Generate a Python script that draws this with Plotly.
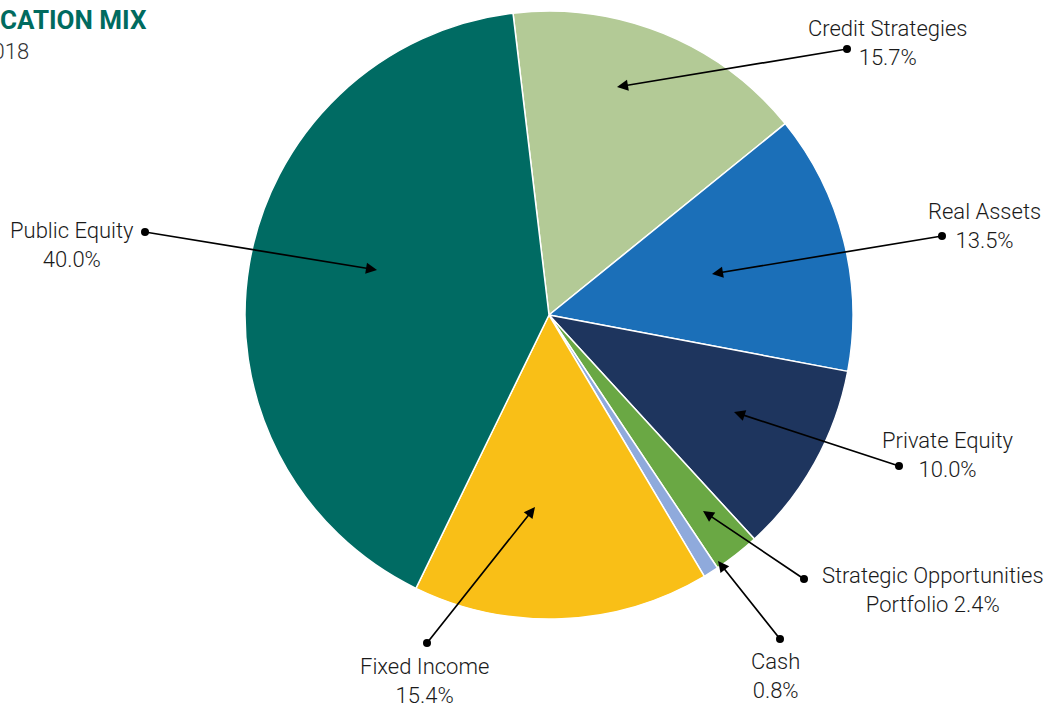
import plotly.graph_objects as go

W, H = 1049, 706

categories = ["Credit Strategies", "Real Assets", "Private Equity",
              "Strategic Opportunities Portfolio", "Cash", "Fixed Income", "Public Equity"]
values = [15.7, 13.5, 10.0, 2.4, 0.8, 15.4, 40.0]
label_texts = ["Credit Strategies<br>15.7%", "Real Assets<br>13.5%", "Private Equity<br>10.0%",
               "Strategic Opportunities<br>Portfolio 2.4%", "Cash<br>0.8%",
               "Fixed Income<br>15.4%", "Public Equity<br>40.0%"]
colors = ["#B3CA96", "#1B6FB8", "#1E355E", "#6AA844", "#8FAADC", "#F9BF17", "#006B63"]

# label layout (pixel positions on the page)
label_pos = [(888, 43), (984, 226), (948, 455), (933, 590), (775, 676), (424, 681), (72, 245)]
dot_pos = [(847, 49), (942, 236), (899, 466), (804, 579), (780, 639), (427, 643), (145, 232)]
tip_pos = [(617, 87), (712, 274), (734, 412), (703, 511), (718, 561), (535, 507), (377, 270)]

cx, cy, R = 549, 315, 304

FONT = "Roboto, DejaVu Sans Condensed, sans-serif"

fig = go.Figure()
fig.add_trace(go.Pie(
    labels=categories, values=values, sort=False, direction="clockwise",
    rotation=-6.8, marker=dict(colors=colors, line=dict(color="white", width=1.5)),
    textinfo="none", hoverinfo="label+percent", showlegend=False,
    domain=dict(x=[(cx - R) / W, (cx + R) / W], y=[1 - (cy + R) / H, 1 - (cy - R) / H]),
))
fig.add_trace(go.Scatter(
    x=[p[0] for p in dot_pos], y=[p[1] for p in dot_pos], mode="markers",
    marker=dict(color="black", size=8), hoverinfo="skip", showlegend=False,
))

annotations = []
for txt, (lx, ly) in zip(label_texts, label_pos):
    annotations.append(dict(x=lx, y=ly, xref="x", yref="y", text=txt, showarrow=False,
                            xanchor="center", yanchor="middle", align="center",
                            font=dict(family=FONT, size=22, color="#1a1a1a", weight=300)))
for (dx, dy), (tx, ty) in zip(dot_pos, tip_pos):
    annotations.append(dict(x=tx, y=ty, xref="x", yref="y", ax=dx, ay=dy, axref="x", ayref="y",
                            text="", showarrow=True, arrowhead=2, arrowsize=1.3,
                            arrowwidth=1.7, arrowcolor="black", standoff=0))
annotations.append(dict(x=149, y=20, xref="x", yref="y", text="<b>ASSET ALLOCATION MIX</b>",
                        showarrow=False, xanchor="right", yanchor="middle",
                        font=dict(family="Roboto, sans-serif", size=26, color="#006B5F")))
annotations.append(dict(x=31, y=51, xref="x", yref="y", text="As of June 30, 2018",
                        showarrow=False, xanchor="right", yanchor="middle",
                        font=dict(family=FONT, size=22, color="#333333", weight=300)))

fig.update_layout(
    width=W, height=H, margin=dict(l=0, r=0, t=0, b=0),
    paper_bgcolor="white", plot_bgcolor="rgba(0,0,0,0)",
    xaxis=dict(range=[0, W], visible=False, fixedrange=True, domain=[0, 1]),
    yaxis=dict(range=[H, 0], visible=False, fixedrange=True, domain=[0, 1]),
    annotations=annotations,
)
fig.write_html("out.html")
